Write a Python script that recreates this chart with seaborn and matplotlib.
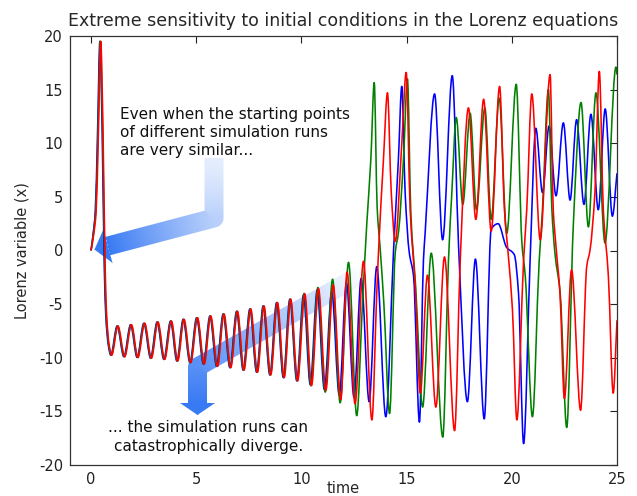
import numpy as np
import pandas as pd
import matplotlib
matplotlib.use("Agg")
import matplotlib.pyplot as plt
from matplotlib.path import Path
from matplotlib.patches import PathPatch
import seaborn as sns

# ---- Lorenz x(t) for three runs with almost identical starting points ----
t_blue = [0.00, 0.09, 0.20, 0.31, 0.42, 0.53, 0.63, 0.70, 0.82, 0.94,
          1.24, 1.56, 1.88, 2.19, 2.51, 2.83, 3.14, 3.46, 3.78, 4.08,
          4.38, 4.70, 5.02, 5.34, 5.65, 5.97, 6.28, 6.60, 6.92, 7.23,
          7.55, 7.87, 8.18, 8.50, 8.82, 9.14, 9.45, 9.78,
          10.10, 10.42, 10.75, 11.09, 11.44, 11.80, 12.14, 12.50, 12.84, 13.22,
          13.58, 14.01, 14.38, 14.61, 14.77, 14.93, 15.12, 15.33, 15.61, 15.80,
          15.88, 16.33, 16.71, 17.17, 17.47, 17.89, 18.27, 18.69, 19.02, 19.35,
          19.75, 20.12, 20.32, 20.56, 20.87, 21.14, 21.46, 21.77, 22.10, 22.45,
          22.77, 23.08, 23.43, 23.76, 24.11, 24.44, 24.78, 25.00]
x_blue = [0.0, 1.4, 3.6, 11.0, 19.5, 11.0, -1.5, -6.0, -8.8, -9.76,
          -7.04, -9.9, -6.92, -9.97, -6.79, -10.04, -6.67, -10.15, -6.58, -10.3,
          -6.42, -10.45, -6.27, -10.58, -6.11, -10.8, -5.92, -10.92, -5.67, -11.15,
          -5.45, -11.35, -5.17, -11.6, -4.86, -11.85, -4.54, -12.15,
          -4.15, -12.5, -3.7, -12.95, -3.84, -13.5, -3.0, -13.7, -2.6, -14.1,
          -1.5, -15.5, 0.06, 8.5, 15.3, 5.4, -0.1, -2.4, -16.0, -0.9,
          1.6, 14.6, 1.0, 16.3, 0.4, -14.1, -0.8, -15.7, 2.0, 2.5,
          0.3, -0.4, -4.0, -18.0, -0.9, 11.4, 5.4, 11.6, 5.1, 11.9,
          4.7, 12.2, 4.3, 12.7, 3.8, 13.2, 3.2, 7.2]

t_green = [0.00, 0.10, 0.22, 0.33, 0.44, 0.55, 0.65, 0.72, 0.84, 0.96,
           1.26, 1.58, 1.90, 2.21, 2.53, 2.85, 3.16, 3.48, 3.80, 4.10,
           4.40, 4.72, 5.04, 5.36, 5.67, 5.99, 6.30, 6.62, 6.94, 7.25,
           7.57, 7.89, 8.20, 8.52, 8.84, 9.16, 9.47, 9.80,
           10.13, 10.45, 10.78, 11.13, 11.48, 11.84, 12.24, 12.63, 12.90, 13.11,
           13.30, 13.46, 13.60, 13.75, 13.92, 14.19, 14.46, 14.62, 14.85, 15.04,
           15.20, 15.43, 15.76, 16.17, 16.72, 16.99, 17.15, 17.36, 17.67, 18.02,
           18.32, 18.72, 19.02, 19.40, 19.76, 20.21, 20.48, 20.64, 20.98, 21.30,
           21.45, 21.74, 21.90, 22.05, 22.30, 22.61, 22.92, 23.29, 23.64, 24.00,
           24.43, 24.95, 25.00]
x_green = [0.0, 1.4, 3.6, 11.0, 19.5, 11.0, -1.5, -6.0, -8.8, -9.76,
           -7.04, -9.9, -6.92, -9.97, -6.79, -10.04, -6.67, -10.15, -6.58, -10.3,
           -6.42, -10.45, -6.27, -10.58, -6.11, -10.8, -5.92, -10.92, -5.67, -11.15,
           -5.45, -11.35, -5.17, -11.6, -4.86, -11.85, -4.54, -12.15,
           -4.0, -12.6, -3.45, -13.2, -2.68, -14.2, -1.1, -15.4, -5.0, 2.6,
           8.5, 15.65, 4.0, 0.0, -5.0, -15.2, -0.2, 1.8, 8.5, 16.0,
           3.5, -3.4, -14.6, -0.25, -17.4, -0.9, 5.4, 12.4, 4.3, 12.8,
           3.8, 13.3, 2.9, 14.2, 1.6, 15.5, 0.7, -2.4, -15.5, -1.0,
           3.5, 15.0, 4.0, -0.25, -4.0, -16.5, 2.2, 13.8, 2.2, 14.7,
           0.7, 17.1, 16.4]

t_red = [0.00, 0.12, 0.24, 0.35, 0.46, 0.57, 0.67, 0.74, 0.86, 0.98,
         1.28, 1.60, 1.92, 2.23, 2.55, 2.87, 3.18, 3.50, 3.82, 4.12,
         4.42, 4.74, 5.06, 5.38, 5.69, 6.01, 6.32, 6.64, 6.96, 7.27,
         7.59, 7.91, 8.22, 8.54, 8.86, 9.18, 9.49, 9.82,
         10.16, 10.48, 10.81, 11.16, 11.51, 11.87, 12.17, 12.55, 12.95, 13.35,
         13.58, 13.66, 13.90, 14.09, 14.27, 14.46, 14.77, 14.98, 15.17, 15.41,
         15.65, 15.99, 16.39, 16.80, 17.28, 17.55, 17.94, 18.29, 18.66, 19.02,
         19.42, 19.65, 19.84, 20.03, 20.24, 20.56, 20.71, 20.95, 21.35, 21.82,
         21.97, 22.10, 22.29, 22.50, 22.84, 23.27, 23.56, 23.72, 23.95, 24.16,
         24.35, 24.59, 24.82, 25.00]
x_red = [0.0, 1.4, 3.6, 11.0, 19.5, 11.0, -1.5, -6.0, -8.8, -9.76,
         -7.04, -9.9, -6.92, -9.97, -6.79, -10.04, -6.67, -10.15, -6.58, -10.3,
         -6.42, -10.45, -6.27, -10.58, -6.11, -10.8, -5.92, -10.92, -5.67, -11.15,
         -5.45, -11.35, -5.17, -11.6, -4.86, -11.85, -4.54, -12.15,
         -4.05, -12.6, -3.55, -13.05, -3.21, -13.9, -2.0, -14.3, -1.0, -15.8,
         -4.0, -0.3, 8.5, 14.7, 5.4, 0.85, 10.0, 16.6, 3.8, -3.4,
         -13.3, -2.3, -14.6, -0.6, -16.8, -0.9, 13.3, 2.9, 14.1, 1.8,
         15.3, 3.8, -0.6, -5.5, -15.8, -0.9, 3.8, 14.6, 1.0, 16.4,
         3.8, 0.4, -4.0, -13.8, -1.8, -14.9, -1.5, 0.06, 5.4, 16.7,
         3.8, -2.4, -13.3, -6.5]

run_names = ["run 1", "run 2", "run 3"]
run_colors = {"run 1": "#0000ff", "run 2": "#008000", "run 3": "#ff0000"}

df = pd.concat([
    pd.DataFrame({"time": t_blue, "x": x_blue, "run": "run 1"}),
    pd.DataFrame({"time": t_green, "x": x_green, "run": "run 2"}),
    pd.DataFrame({"time": t_red, "x": x_red, "run": "run 3"}),
], ignore_index=True)

x_ticks = [0, 5, 10, 15, 20, 25]
y_ticks = [-20, -15, -10, -5, 0, 5, 10, 15, 20]

sns.set_style("white")
plt.rcParams["font.family"] = ["DejaVu Sans"]
plt.rcParams.update({
    "axes.unicode_minus": False,
    "xtick.direction": "in", "ytick.direction": "in",
    "xtick.top": True, "ytick.right": True,
    "xtick.major.size": 5, "ytick.major.size": 5,
    "xtick.major.width": 0.8, "ytick.major.width": 0.8,
    "xtick.color": "#222222", "ytick.color": "#222222",
})

W, H = 637, 496
fig = plt.figure(figsize=(W / 100, H / 100), dpi=100, facecolor="white")

# ---- gradient arrows, rasterised in figure pixel space ----
YY, XX = np.mgrid[0:H, 0:W] + 0.5


def arrow_alpha(path, half_w, head_half, head_len, a0, a1, gamma):
    pts = np.asarray(path, float)
    lengths = np.hypot(*(pts[1:] - pts[:-1]).T)
    total = lengths.sum()
    best_d = np.full(XX.shape, np.inf)
    best_s = np.zeros(XX.shape)
    best_ok = np.zeros(XX.shape, bool)
    s0 = 0.0
    nseg = len(pts) - 1
    for i in range(nseg):
        (x0, y0), (x1, y1) = pts[i], pts[i + 1]
        dx, dy, L = x1 - x0, y1 - y0, lengths[i]
        u = ((XX - x0) * dx + (YY - y0) * dy) / L ** 2
        uc = np.clip(u, 0, 1)
        d = np.hypot(XX - (x0 + uc * dx), YY - (y0 + uc * dy))
        ok = np.ones(XX.shape, bool)
        if i == 0:
            ok &= u >= 0
        if i == nseg - 1:
            ok &= u <= 1
        upd = d < best_d
        best_d = np.where(upd, d, best_d)
        best_s = np.where(upd, s0 + uc * L, best_s)
        best_ok = np.where(upd, ok, best_ok)
        s0 += L
    cover = np.clip(half_w - best_d + 0.5, 0, 1) * best_ok
    frac = best_s / total
    body = cover * (a0 + (a1 - a0) * frac ** gamma)

    # triangular head at the end of the path
    end = pts[-1]
    dvec = (pts[-1] - pts[-2]) / lengths[-1]
    nvec = np.array([-dvec[1], dvec[0]])
    tip = end + head_len * dvec
    tri = [end + head_half * nvec, tip, end - head_half * nvec]
    cx, cy = np.mean(tri, axis=0)
    dists = []
    for k in range(3):
        p, q = tri[k], tri[(k + 1) % 3]
        ex, ey = q - p
        nx, ny = -ey, ex
        nn = np.hypot(nx, ny)
        sd = ((XX - p[0]) * nx + (YY - p[1]) * ny) / nn
        if ((cx - p[0]) * nx + (cy - p[1]) * ny) < 0:
            sd = -sd
        dists.append(sd)
    head = np.clip(np.minimum.reduce(dists) + 0.5, 0, 1) * a1
    return np.maximum(body, head)


arrow_rgb = np.array([0.22, 0.48, 0.96])
alpha1 = arrow_alpha([(214, 158), (214, 218), (108, 246)],
                     half_w=9.5, head_half=17.5, head_len=14, a0=0.13, a1=1.0, gamma=1.3)
alpha2 = arrow_alpha([(364, 273), (197.5, 367), (197.5, 403)],
                     half_w=9.5, head_half=17.5, head_len=12, a0=0.0, a1=1.0, gamma=1.0)
alpha = np.maximum(alpha1, alpha2)
rgba = np.zeros((H, W, 4))
rgba[..., :3] = arrow_rgb
rgba[..., 3] = alpha

bg = fig.add_axes([0, 0, 1, 1], zorder=0)
bg.imshow(rgba, extent=(0, W, H, 0), interpolation="none", aspect="auto")
bg.set_xlim(0, W)
bg.set_ylim(H, 0)
bg.set_axis_off()


def smooth_curve(t, x):
    """Monotone cubic (Fritsch-Carlson) Bezier path through the given samples."""
    t = np.asarray(t, float)
    x = np.asarray(x, float)
    h = np.diff(t)
    d = np.diff(x) / h
    m = np.zeros_like(x)
    for i in range(1, len(x) - 1):
        if d[i - 1] * d[i] > 0:
            w1 = 2 * h[i] + h[i - 1]
            w2 = h[i] + 2 * h[i - 1]
            m[i] = (w1 + w2) / (w1 / d[i - 1] + w2 / d[i])
    m[0], m[-1] = d[0], d[-1]
    verts = [(t[0], x[0])]
    codes = [Path.MOVETO]
    for i in range(len(h)):
        verts += [(t[i] + h[i] / 3, x[i] + m[i] * h[i] / 3),
                  (t[i + 1] - h[i] / 3, x[i + 1] - m[i + 1] * h[i] / 3),
                  (t[i + 1], x[i + 1])]
        codes += [Path.CURVE4] * 3
    return Path(verts, codes)


# ---- main chart ----
ax = fig.add_axes([70 / W, 1 - 465 / H, 547 / W, 429 / H], zorder=1)
ax.set_facecolor("none")
sns.lineplot(data=df, x="time", y="x", hue="run", hue_order=run_names,
             palette=run_colors, estimator=None, linewidth=1.15, legend=False, ax=ax)

# render each run as a smooth curve through its samples
for line in list(ax.get_lines()):
    tx, xv = line.get_data()
    ax.add_patch(PathPatch(smooth_curve(tx, xv), fill=False,
                           edgecolor=line.get_color(), linewidth=line.get_linewidth(),
                           zorder=line.get_zorder(), capstyle="butt", joinstyle="round"))
    line.set_visible(False)

ax.set_xlim(-1, 25)
ax.set_ylim(-20, 20)
ax.set_xticks(x_ticks)
ax.set_yticks(y_ticks)
ax.tick_params(labelsize=10.5, pad=5, colors="#222222")
for sp in ax.spines.values():
    sp.set_visible(True)
    sp.set_color("#333333")
    sp.set_linewidth(0.9)

ax.set_xlabel("time", fontsize=10.5, labelpad=-4)
ax.set_ylabel("Lorenz variable (x)", fontsize=10.5, labelpad=7)
ax.set_title("Extreme sensitivity to initial conditions in the Lorenz equations",
             fontsize=12.5, pad=7)

ax.text(1.38, 11.0, "Even when the starting points\nof different simulation runs\nare very similar...",
        fontsize=11, ha="left", va="center", linespacing=1.28, color="#111111")
ax.text(5.57, -17.4, "... the simulation runs can\ncatastrophically diverge.",
        fontsize=11, ha="center", va="center", linespacing=1.28, color="#111111")

fig.savefig("out.png", dpi=100, facecolor="white")
